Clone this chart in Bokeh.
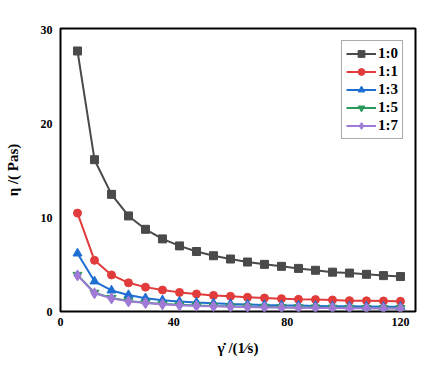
from bokeh.plotting import figure
from bokeh.models import Legend, LegendItem, Range1d, FixedTicker
from bokeh.embed import file_html
from bokeh.resources import INLINE

shear_rate = [6, 12, 18, 24, 30, 36, 42, 48, 54, 60, 66, 72, 78, 84, 90, 96, 102, 108, 114, 120]
eta_1_0 = [27.8, 16.2, 12.5, 10.2, 8.77, 7.75, 7.0, 6.4, 5.95, 5.6, 5.28, 5.03, 4.82, 4.6, 4.4, 4.2, 4.1, 3.97, 3.83, 3.73]
eta_1_1 = [10.5, 5.46, 3.9, 3.06, 2.6, 2.29, 2.04, 1.87, 1.72, 1.62, 1.51, 1.44, 1.37, 1.3, 1.27, 1.23, 1.16, 1.14, 1.12, 1.09]
eta_1_3 = [6.2, 3.22, 2.25, 1.76, 1.42, 1.2, 1.06, 0.96, 0.87, 0.8, 0.75, 0.7, 0.66, 0.63, 0.6, 0.57, 0.55, 0.53, 0.51, 0.5]
eta_1_5 = [3.9, 2.0, 1.44, 1.13, 0.94, 0.8, 0.71, 0.64, 0.59, 0.55, 0.52, 0.49, 0.46, 0.44, 0.42, 0.4, 0.39, 0.37, 0.36, 0.35]
eta_1_7 = [3.85, 1.95, 1.4, 1.08, 0.9, 0.77, 0.67, 0.6, 0.55, 0.5, 0.47, 0.44, 0.42, 0.4, 0.38, 0.37, 0.35, 0.34, 0.33, 0.32]
labels = ["1:0", "1:1", "1:3", "1:5", "1:7"]
x_ticks = [0, 40, 80, 120]
y_ticks = [0, 10, 20, 30]

series = [eta_1_0, eta_1_1, eta_1_3, eta_1_5, eta_1_7]
colors = ["#4a4a4a", "#e23b3b", "#1f6fd2", "#2a9a5c", "#a07ad6"]
markers = ["square", "circle", "triangle", "inverted_triangle", "diamond"]
sizes = [8, 8, 9, 9, 11]

FONT = "Liberation Serif"

p = figure(frame_width=355, frame_height=283, output_backend="svg", toolbar_location=None,
           x_range=Range1d(0, 125.3), y_range=Range1d(0, 30.2),
           min_border_left=60, min_border_right=12, min_border_top=28, min_border_bottom=40)
p.outline_line_color = "black"
p.outline_line_width = 2
p.grid.visible = False

for ax in (p.xaxis[0], p.yaxis[0]):
    ax.axis_line_color = None
    ax.major_tick_line_color = None
    ax.minor_tick_line_color = None
    ax.major_tick_out = 0
    ax.major_tick_in = 0
    ax.minor_tick_out = 0
    ax.major_label_text_font = FONT
    ax.major_label_text_font_style = "bold"
    ax.major_label_text_font_size = "12px"
    ax.major_label_text_color = "black"
    ax.axis_label_text_font = FONT
    ax.axis_label_text_font_style = "bold"
    ax.axis_label_text_font_size = "15px"
    ax.axis_label_text_color = "black"

p.xaxis.ticker = FixedTicker(ticks=x_ticks)
p.yaxis.ticker = FixedTicker(ticks=y_ticks)
p.xaxis.major_label_standoff = 6
p.yaxis.major_label_standoff = 8
p.xaxis.axis_label = "\u03b3\u0307 /(1\u2044s)"
p.yaxis.axis_label = "\u03b7 /( Pas)"
p.xaxis.axis_label_standoff = 11
p.yaxis.axis_label_standoff = 17

items = []
for lab, ys, c, m, s in zip(labels, series, colors, markers, sizes):
    l = p.line(shear_rate, ys, line_color=c, line_width=2)
    sc = p.scatter(shear_rate, ys, marker=m, size=s, fill_color=c, line_color=c)
    items.append(LegendItem(label=lab, renderers=[l, sc]))

legend = Legend(items=items, location="top_right")
legend.label_text_font = FONT
legend.label_text_font_style = "bold"
legend.label_text_font_size = "15px"
legend.label_text_color = "black"
legend.glyph_width = 30
legend.glyph_height = 17
legend.label_height = 17
legend.spacing = 1
legend.padding = 4
legend.margin = 12
legend.label_standoff = 2
legend.border_line_color = "#555555"
legend.border_line_width = 1
legend.background_fill_alpha = 1
p.add_layout(legend, "center")

open("out.html", "w").write(file_html(p, INLINE))
